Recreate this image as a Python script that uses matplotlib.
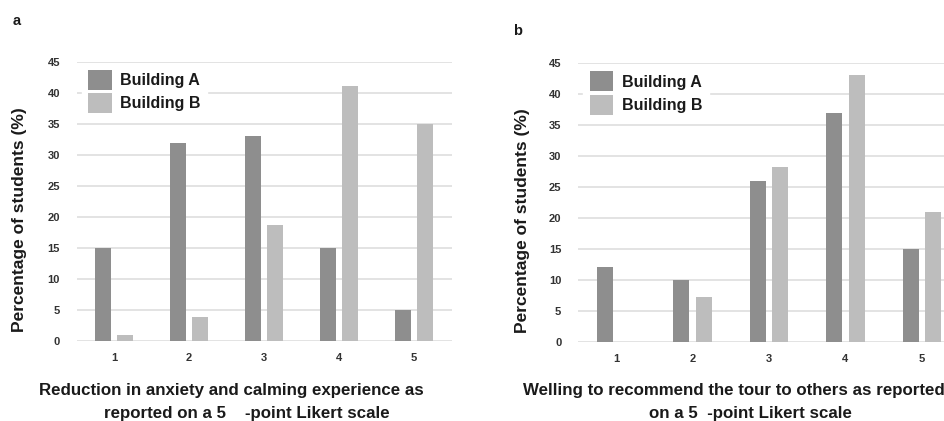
import numpy as np
import matplotlib.pyplot as plt

plt.rcParams["font.family"] = ["Liberation Sans", "DejaVu Sans"]

# Likert scale responses, % of students per building
likert = [1, 2, 3, 4, 5]
anxiety_a = [15, 32, 33, 15, 5]
anxiety_b = [1, 3.8, 18.7, 41.2, 35]
recommend_a = [12, 10, 26, 37, 15]
recommend_b = [0, 7.2, 28.3, 43.2, 21]
yticks = [0, 5, 10, 15, 20, 25, 30, 35, 40, 45]

COLOR_A = "#8e8e8e"
COLOR_B = "#bdbdbd"
GRID = "#dedede"
TEXT = "#1a1a1a"


def draw_panel(ax, vals_a, vals_b, label_x):
    x = np.array(likert)
    w = 0.21
    ax.bar(x - 0.147, vals_a, w, color=COLOR_A, label="Building A", zorder=3)
    ax.bar(x + 0.147, vals_b, w, color=COLOR_B, label="Building B", zorder=3)
    ax.set_xlim(0.5, 5.5)
    ax.set_ylim(0, 45)
    ax.set_yticks(yticks)
    ax.set_xticks(likert)
    ax.grid(axis="y", color=GRID, linewidth=1.2, zorder=0)
    for s in ax.spines.values():
        s.set_visible(False)
    ax.tick_params(length=0, labelsize=8, labelcolor="#333333")
    for lbl in ax.get_xticklabels() + ax.get_yticklabels():
        lbl.set_fontweight("bold")
    ax.tick_params(axis="y", pad=12)
    ax.tick_params(axis="x", pad=9)
    ax.set_ylabel("Percentage of students (%)", fontsize=12.5, fontweight="bold",
                  color=TEXT)
    ax.yaxis.set_label_coords(label_x, 0.434)
    leg = ax.legend(loc="upper left", bbox_to_anchor=(0.01, 1.0), frameon=True,
                    fontsize=11.5, handlelength=1.45, handleheight=1.55,
                    handletextpad=0.55, labelspacing=0.2, borderaxespad=0.1)
    leg.get_frame().set_facecolor("white")
    leg.get_frame().set_edgecolor("white")
    leg.get_frame().set_alpha(1)
    for t in leg.get_texts():
        t.set_fontweight("bold")
        t.set_color(TEXT)


fig = plt.figure(figsize=(9.44, 4.21), dpi=100)

ax1 = fig.add_axes([0.0813, 0.1907, 0.3972, 0.662])
draw_panel(ax1, anxiety_a, anxiety_b, -0.134)

ax2 = fig.add_axes([0.6123, 0.1884, 0.4047, 0.661])
draw_panel(ax2, recommend_a, recommend_b, -0.125)

fig.text(0.013, 0.94, "a", fontsize=10.5, fontweight="bold", color=TEXT)
fig.text(0.543, 0.918, "b", fontsize=10.5, fontweight="bold", color=TEXT)

fig.text(0.245, 0.062, "Reduction in anxiety and calming experience as",
         ha="center", fontsize=12.2, fontweight="bold", color=TEXT)
fig.text(0.261, 0.006, "reported on a 5    -point Likert scale",
         ha="center", fontsize=12.2, fontweight="bold", color=TEXT)
fig.text(0.777, 0.062, "Welling to recommend the tour to others as reported",
         ha="center", fontsize=12.2, fontweight="bold", color=TEXT)
fig.text(0.795, 0.006, "on a 5  -point Likert scale",
         ha="center", fontsize=12.2, fontweight="bold", color=TEXT)

fig.savefig("out.png", dpi=100, facecolor="white")
